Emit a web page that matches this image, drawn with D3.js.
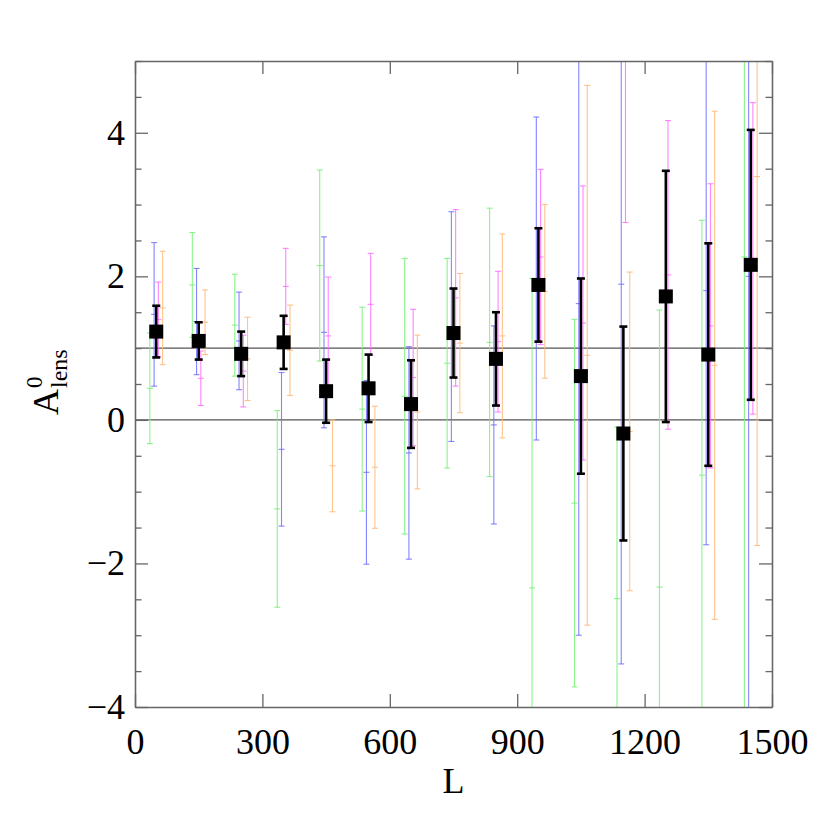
<!DOCTYPE html>
<meta charset="utf-8">
<head>
<script src="https://d3js.org/d3.v7.min.js"></script>
<style>
  body { margin: 0; background: #fff; }
</style>
</head>
<body>
<div id="graph"></div>
<script>
// multipole bins
var L = [50, 150, 250, 350, 450, 550, 650, 750, 850, 950, 1050, 1150, 1250, 1350, 1450];

// combined estimate (black squares)
var blackVal = [1.23, 1.10, 0.92, 1.08, 0.40, 0.44, 0.22, 1.21, 0.85, 1.88, 0.61, -0.19, 1.72, 0.91, 2.16];
var blackErr = [0.36, 0.26, 0.31, 0.37, 0.44, 0.47, 0.61, 0.62, 0.65, 0.79, 1.36, 1.49, 1.75, 1.55, 1.88];

// individual estimates
var greenVal = [0.44, 1.88, 1.32, -1.24, 2.15, 0.15, 0.33, 0.79, 1.08, -2.34, -1.16, -2.49, -2.33, -0.77, 2.27];
var greenErr = [0.77, 0.73, 0.71, 1.37, 1.33, 1.42, 1.92, 1.46, 1.87, 4.31, 2.56, 2.39, 3.86, 3.55, 7.0];

var blueVal = [1.47, 1.37, 1.10, -0.41, 1.22, -0.73, -0.46, 1.30, -0.07, 1.97, 1.62, 1.89, null, 1.80, 2.0];
var blueErr = [1.00, 0.74, 0.68, 1.07, 1.33, 1.28, 1.48, 1.60, 1.38, 2.25, 4.62, 5.29, null, 3.54, 7.0];

var magentaVal = [1.40, 0.58, 0.68, 1.86, 1.17, 1.61, 0.59, 1.70, 1.09, 2.27, 1.35, 6.5, 2.02, 1.31, 2.25];
var magentaErr = [0.52, 0.38, 0.50, 0.53, 0.82, 0.71, 0.95, 1.23, 0.98, 1.22, 1.91, 3.75, 2.15, 1.98, 2.17];

var orangeVal = [1.56, 1.36, 0.85, 0.97, -0.64, -0.66, 0.11, 1.07, 1.17, 1.79, 0.90, -0.16, null, 0.76, 3.39];
var orangeErr = [0.79, 0.45, 0.58, 0.63, 0.64, 0.85, 1.07, 0.97, 1.42, 1.21, 3.76, 2.22, null, 3.54, 5.14];

var xTicks = [0, 300, 600, 900, 1200, 1500];
var yTicks = [-4, -2, 0, 2, 4];
var refLines = [0, 1];

// series drawing setup (offset in L units)
var series = [
    {val: greenVal, err: greenErr, color: "rgb(120,240,120)", dx: -15},
    {val: blueVal, err: blueErr, color: "rgb(110,110,255)", dx: -5},
    {val: magentaVal, err: magentaErr, color: "rgb(255,110,255)", dx: 5},
    {val: orangeVal, err: orangeErr, color: "rgb(255,185,120)", dx: 15}
];

var margin = {top: 61, right: 58, bottom: 123, left: 135},
    width = 830 - margin.left - margin.right,
    height = 830 - margin.top - margin.bottom;

var svg = d3.select("#graph")
  .append("svg")
    .attr("width", 830)
    .attr("height", 830)
  .append("g")
    .attr("transform", "translate(" + margin.left + "," + margin.top + ")");

var x = d3.scaleLinear().domain([0, 1500]).range([0, width]);
var y = d3.scaleLinear().domain([-4, 5]).range([height, 0]);

svg.append("clipPath").attr("id", "clip")
  .append("rect").attr("width", width).attr("height", height);

var plot = svg.append("g").attr("clip-path", "url(#clip)");

// reference lines
plot.selectAll(".ref")
    .data(refLines)
    .enter().append("line")
    .attr("x1", 0).attr("x2", width)
    .attr("y1", function(d) { return y(d); })
    .attr("y2", function(d) { return y(d); })
    .style("stroke", "#555")
    .style("stroke-width", 1.2);

// coloured error bars
series.forEach(function(s) {
    var pts = L.map(function(l, i) { return {l: l + s.dx, v: s.val[i], e: s.err[i]}; })
        .filter(function(d) { return d.v !== null; });
    var g = plot.append("g")
        .style("stroke", s.color)
        .style("stroke-width", 1.1)
        .style("stroke-opacity", 0.85);
    g.selectAll(".bar").data(pts).enter().append("line")
        .attr("x1", function(d) { return x(d.l); })
        .attr("x2", function(d) { return x(d.l); })
        .attr("y1", function(d) { return y(d.v - d.e); })
        .attr("y2", function(d) { return y(d.v + d.e); });
    [-1, 0, 1].forEach(function(k) {
        g.selectAll(".cap" + (k + 1)).data(pts).enter().append("line")
            .attr("x1", function(d) { return x(d.l) - 3; })
            .attr("x2", function(d) { return x(d.l) + 3; })
            .attr("y1", function(d) { return y(d.v + k * d.e); })
            .attr("y2", function(d) { return y(d.v + k * d.e); });
    });
});

// black combined points
var bpts = L.map(function(l, i) { return {l: l, v: blackVal[i], e: blackErr[i]}; });
var bg = plot.append("g").style("stroke", "#000").style("stroke-width", 2.6);
bg.selectAll(".bbar").data(bpts).enter().append("line")
    .attr("x1", function(d) { return x(d.l); })
    .attr("x2", function(d) { return x(d.l); })
    .attr("y1", function(d) { return y(d.v - d.e); })
    .attr("y2", function(d) { return y(d.v + d.e); });
[-1, 1].forEach(function(k) {
    bg.selectAll(".bcap" + (k + 1)).data(bpts).enter().append("line")
        .attr("x1", function(d) { return x(d.l) - 4; })
        .attr("x2", function(d) { return x(d.l) + 4; })
        .attr("y1", function(d) { return y(d.v + k * d.e); })
        .attr("y2", function(d) { return y(d.v + k * d.e); });
});
plot.selectAll(".sq").data(bpts).enter().append("rect")
    .attr("x", function(d) { return x(d.l) - 7; })
    .attr("y", function(d) { return y(d.v) - 7; })
    .attr("width", 14).attr("height", 14)
    .style("fill", "#000");

// axes
var minor = d3.range(-4, 5.01, 0.5).filter(function(v) { return yTicks.indexOf(v) < 0; });

function styleAxis(g) {
    g.selectAll("path").style("stroke", "#666").style("stroke-width", 1.3);
    g.selectAll("line").style("stroke", "#666").style("stroke-width", 1.3);
    g.selectAll("text")
        .style("font-family", "'Liberation Serif', serif")
        .style("font-size", "36px")
        .style("fill", "#000");
}

svg.append("g").attr("transform", "translate(0," + height + ")")
    .call(d3.axisBottom(x).tickValues(xTicks).tickFormat(d3.format("d"))
        .tickSize(-13).tickSizeOuter(0).tickPadding(21))
    .call(styleAxis);
svg.append("g")
    .call(d3.axisTop(x).tickValues(xTicks).tickSize(-13).tickSizeOuter(0).tickFormat(""))
    .call(styleAxis);
svg.append("g")
    .call(d3.axisLeft(y).tickValues(yTicks).tickSize(-13).tickSizeOuter(0).tickPadding(10))
    .call(styleAxis);
svg.append("g")
    .call(d3.axisLeft(y).tickValues(minor).tickSize(-6.5).tickSizeOuter(0).tickFormat(""))
    .call(styleAxis);
svg.append("g").attr("transform", "translate(" + width + ",0)")
    .call(d3.axisRight(y).tickValues(yTicks).tickSize(-13).tickSizeOuter(0).tickFormat(""))
    .call(styleAxis);
svg.append("g").attr("transform", "translate(" + width + ",0)")
    .call(d3.axisRight(y).tickValues(minor).tickSize(-6.5).tickSizeOuter(0).tickFormat(""))
    .call(styleAxis);

// x label
svg.append("text")
    .attr("x", width / 2)
    .attr("y", height + 86)
    .attr("text-anchor", "middle")
    .style("font-family", "'Liberation Serif', serif")
    .style("font-size", "36px")
    .text("L");

// y label: A^0_lens
var yl = d3.select("svg").append("g")
    .attr("transform", "translate(58,415) rotate(-90)")
    .style("font-family", "'Liberation Serif', serif");
yl.append("text").attr("x", 0).attr("y", 0).style("font-size", "36px").text("A");
yl.append("text").attr("x", 27).attr("y", -16).style("font-size", "23px").text("0");
yl.append("text").attr("x", 27).attr("y", 9).style("font-size", "24px").text("lens");
</script>
</body>
